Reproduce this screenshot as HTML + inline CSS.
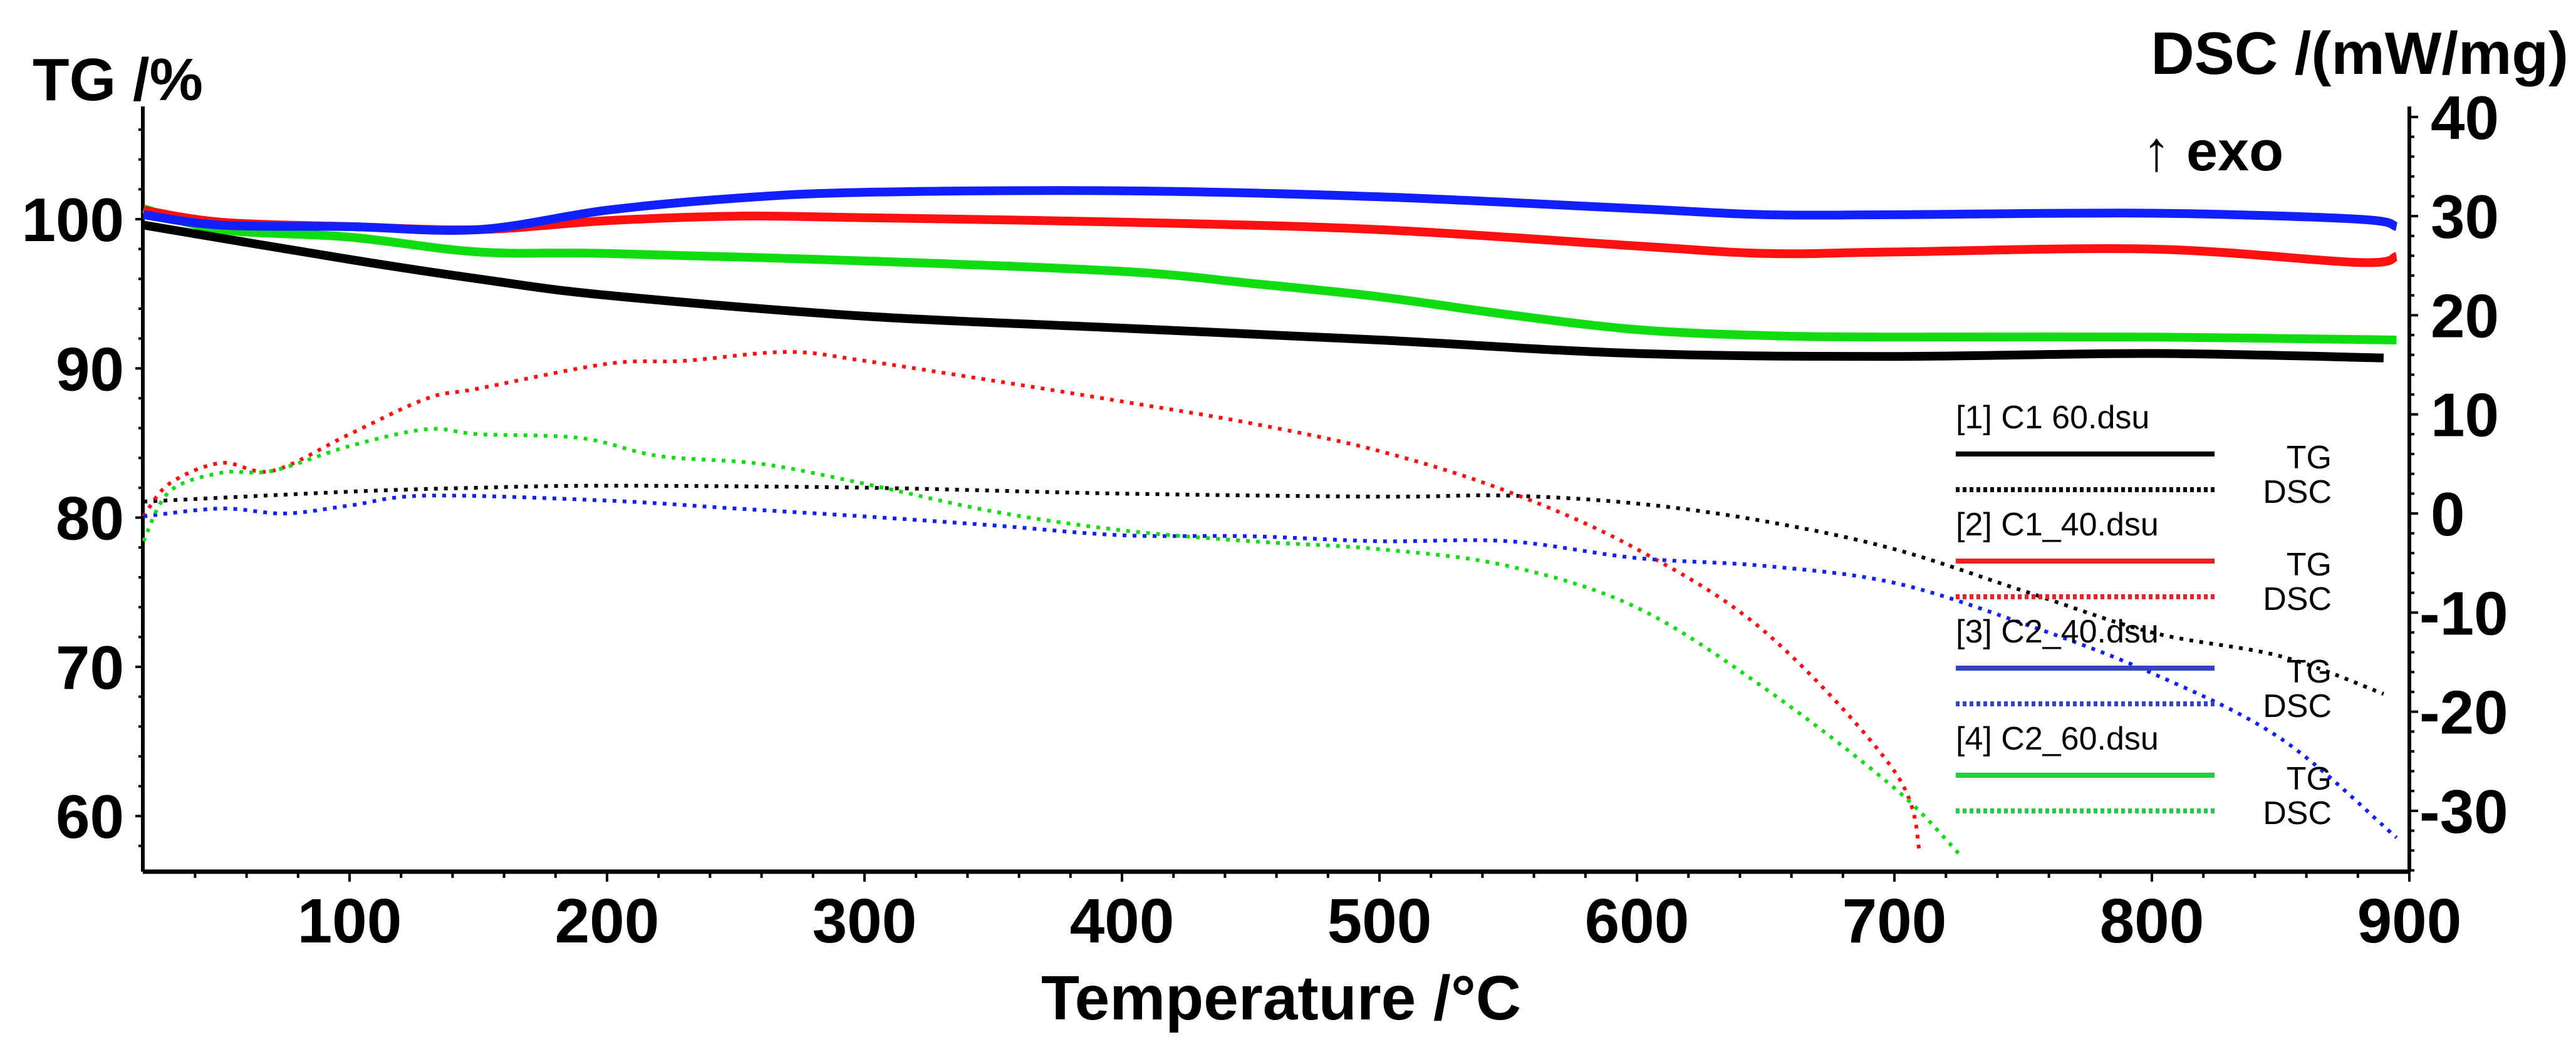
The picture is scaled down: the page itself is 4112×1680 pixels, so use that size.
<!DOCTYPE html>
<html><head><meta charset="utf-8"><style>
html,body{margin:0;padding:0;background:#fff;}
svg{display:block;font-family:"Liberation Sans",Arial,sans-serif;}
</style></head><body>
<svg id="chart" width="4112" height="1680" viewBox="0 0 4112 1680">
<g id="axes"></g>
<g id="series"></g>
<text x="52" y="160" font-size="96" font-weight="bold">TG /%</text>
<text x="4100" y="118" font-size="96" font-weight="bold" text-anchor="end">DSC /(mW/mg)</text>
<text x="3420" y="272" font-size="90" font-weight="bold">↑ exo</text>
<text x="2045" y="1628" font-size="100" font-weight="bold" text-anchor="middle">Temperature /°C</text>
<g id="legend"></g>
</svg>
<script>
const xTicks = [100,200,300,400,500,600,700,800,900];
const tgTicks = [60,70,80,90,100];
const dscTicks = [-30,-20,-10,0,10,20,30,40];
const sampleNames = ["[1] C1 60.dsu","[2] C1_40.dsu","[3] C2_40.dsu","[4] C2_60.dsu"];
const colors = ["#000000","#ff1010","#1020ff","#10dd10"];
const legendColors = ["#000000","#ee2020","#3344cc","#22cc44"];

const tgT1 = [20,100,150,200,300,400,500,600,700,800,890];
const tgV1 = [99.6,97.3,96,94.9,93.5,92.7,91.9,91,90.8,91,90.7];
const tgT2 = [20,50,100,150,200,250,300,400,500,600,650,700,800,880,895];
const tgV2 = [100.6,99.8,99.5,99.3,99.9,100.2,100.1,99.8,99.3,98.2,97.7,97.8,98,97.1,97.5];
const tgT3 = [20,50,100,150,200,250,300,400,500,600,650,700,800,880,895];
const tgV3 = [100.3,99.6,99.5,99.3,100.6,101.4,101.8,101.9,101.5,100.7,100.3,100.3,100.4,100.0,99.5];
const tgT4 = [20,50,100,150,200,300,400,450,500,550,600,650,700,800,895];
const tgV4 = [100.7,99.3,98.8,97.8,97.7,97.2,96.5,95.7,94.8,93.6,92.6,92.2,92.1,92.1,91.9];

const dscT1 = [20,100,150,200,300,400,500,550,600,650,700,750,800,850,890];
const dscV1 = [1.2,2.2,2.6,2.8,2.6,2,1.7,1.8,1,-0.8,-3.6,-7.8,-12,-14.4,-18.2];
const dscT2 = [20,30,50,70,100,130,150,200,230,270,300,350,400,450,500,550,600,650,700,710];
const dscV2 = [-0.3,3,5.1,4.3,8,11.6,12.6,15.1,15.4,16.3,15.4,13.4,11.3,9.1,6.3,2.2,-3.6,-12,-26,-34.3];
const dscT3 = [20,50,75,100,130,200,250,300,350,400,450,500,550,600,650,700,750,800,850,895];
const dscV3 = [-0.3,0.5,0,0.8,1.8,1.3,0.5,-0.3,-1.2,-2.2,-2.3,-2.8,-2.8,-4.5,-5.3,-7,-11.1,-16.1,-22.7,-32.7];
const dscT4 = [20,30,50,70,100,130,150,190,220,260,300,350,400,450,500,550,600,650,700,725];
const dscV4 = [-2.8,2.2,4.1,4.3,6.8,8.5,8,7.6,5.8,5,3,0.2,-1.7,-2.8,-3.6,-5.3,-9.5,-17.7,-27.7,-34.3];

const NS="http://www.w3.org/2000/svg";
const X0=228, X1=3846, YT=170, YB=1392;
const xs = t => 558 + (t-100)*4.11;
const ytg = v => 350 + (100-v)*23.83;
const ydsc = v => 820 - v*15.83;

function mk(tag, attrs, parent){const e=document.createElementNS(NS,tag);for(const k in attrs)e.setAttribute(k,attrs[k]);parent.appendChild(e);return e;}
const axes=document.getElementById('axes');
let e;
e=mk('line',{x1:X0,y1:YT,x2:X0,y2:YB,stroke:'#000','stroke-width':6},axes);


e=mk('line',{x1:X1,y1:YT,x2:X1,y2:YB,stroke:'#000','stroke-width':6},axes);


e=mk('line',{x1:X0,y1:YB,x2:X1,y2:YB,stroke:'#000','stroke-width':7},axes);


for(let t=40;t<=900;t+=20){const x=xs(t);const maj=t%100===0;
  e=mk('line',{x1:x,y1:YB,x2:x,y2:YB+(maj?16:10),stroke:'#000','stroke-width':4},axes);
  
  }
xTicks.forEach(t=>{e=mk('text',{x:xs(t),y:1505,'font-size':100,'font-weight':'bold','text-anchor':'middle'},axes);e.textContent=t;
  
  });
for(let v=58;v<=106;v+=2){const y=ytg(v);
  e=mk('line',{x1:X0-(v%10===0?12:7),y1:y,x2:X0,y2:y,stroke:'#000','stroke-width':4},axes);
  
  }
tgTicks.forEach(v=>{e=mk('text',{x:198,y:ytg(v)+35,'font-size':98,'font-weight':'bold','text-anchor':'end'},axes);e.textContent=v;
  
  });
for(let v=-36;v<=42;v+=2){const y=ydsc(v);if(y<YT||y>YB)continue;
  e=mk('line',{x1:X1,y1:y,x2:X1+(v%10===0?14:8),y2:y,stroke:'#000','stroke-width':4},axes);
  
  }
dscTicks.forEach(v=>{e=mk('text',{x:v<0?3862:3880,y:ydsc(v)+35,'font-size':98,'font-weight':'bold'},axes);e.textContent=v;
  
  });

const ser=document.getElementById('series');
function smoothPath(P){
  let d='M'+P[0][0].toFixed(1)+','+P[0][1].toFixed(1);
  for(let i=0;i<P.length-1;i++){
    const p0=P[Math.max(0,i-1)],p1=P[i],p2=P[i+1],p3=P[Math.min(P.length-1,i+2)];
    const c1x=p1[0]+(p2[0]-p0[0])/6,c1y=p1[1]+(p2[1]-p0[1])/6;
    const c2x=p2[0]-(p3[0]-p1[0])/6,c2y=p2[1]-(p3[1]-p1[1])/6;
    d+=' C'+c1x.toFixed(1)+','+c1y.toFixed(1)+' '+c2x.toFixed(1)+','+c2y.toFixed(1)+' '+p2[0].toFixed(1)+','+p2[1].toFixed(1);
  }
  return d;
}
function curve(T,V,yf,color,dsc,name){
  const P=T.map((t,i)=>[xs(t),yf(V[i])]);
  const a={d:smoothPath(P),fill:'none',stroke:color,'stroke-width':dsc?6:14,'stroke-linejoin':'round'};
  if(dsc){a['stroke-dasharray']='6 10';}
  const p=mk('path',a,ser);
  
  
}
curve(dscT1,dscV1,ydsc,colors[0],true,'dsc-c1-60');
curve(dscT2,dscV2,ydsc,colors[1],true,'dsc-c1-40');
curve(dscT3,dscV3,ydsc,colors[2],true,'dsc-c2-40');
curve(dscT4,dscV4,ydsc,colors[3],true,'dsc-c2-60');
curve(tgT4,tgV4,ytg,colors[3],false,'tg-c2-60');
curve(tgT1,tgV1,ytg,colors[0],false,'tg-c1-60');
curve(tgT2,tgV2,ytg,colors[1],false,'tg-c1-40');
curve(tgT3,tgV3,ytg,colors[2],false,'tg-c2-40');

const leg=document.getElementById('legend');
sampleNames.forEach((n,i)=>{const b=684+i*171;
  e=mk('text',{x:3122,y:b,'font-size':52},leg);e.textContent=n;
  
  
  e=mk('line',{x1:3122,y1:b+41,x2:3535,y2:b+41,stroke:legendColors[i],'stroke-width':8},leg);
  
  
  e=mk('text',{x:3722,y:b+64,'font-size':52,'text-anchor':'end'},leg);e.textContent='TG';
  
  
  e=mk('line',{x1:3122,y1:b+98,x2:3535,y2:b+98,stroke:legendColors[i],'stroke-width':8,'stroke-dasharray':'6 5'},leg);
  
  
  e=mk('text',{x:3722,y:b+119,'font-size':52,'text-anchor':'end'},leg);e.textContent='DSC';
  
  
});
</script>
</body></html>
